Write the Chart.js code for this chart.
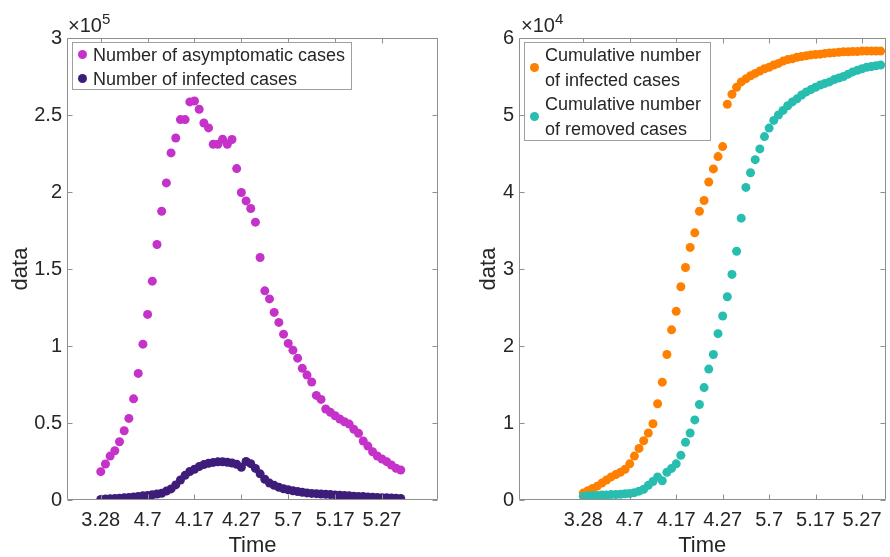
<!DOCTYPE html>
<html>
<head>
<meta charset="utf-8">
<script src="https://cdn.jsdelivr.net/npm/chart.js@4.4.1/dist/chart.umd.min.js"></script>
<style>
    body { margin: 0; background: #fff; }
    #wrap { position: relative; width: 890px; height: 557px; overflow: hidden;
            font-family: "Liberation Sans", Arial, sans-serif; color: #262626; }
    canvas { position: absolute; top: 0; }
    .exp { position: absolute; font-size: 20px; line-height: 20px; white-space: nowrap; }
    .exp span { position: relative; top: -8px; font-size: 15px; }
    .legend { position: absolute; background: #fff; border: 1px solid #a0a0a0; box-sizing: border-box; font-size: 18px; }
    .row { position: absolute; left: 20px; white-space: nowrap; }
    .dot { position: absolute; width: 9px; height: 9px; border-radius: 50%; }
</style>
</head>
<body>
<div id="wrap">
    <canvas id="left" width="445" height="557" style="left:0"></canvas>
    <canvas id="right" width="445" height="557" style="left:445px"></canvas>

    <div class="exp" style="left:68px;top:15px">×10<span>5</span></div>
    <div class="exp" style="left:521px;top:15px">×10<span>4</span></div>

    <div class="legend" style="left:72px;top:42px;width:280px;height:48px">
        <div class="dot" style="left:5px;top:7px;background:#C532C9"></div>
        <div class="row" style="top:0;line-height:24px">Number of asymptomatic cases</div>
        <div class="dot" style="left:5px;top:31px;background:#3E1D7A"></div>
        <div class="row" style="top:24px;line-height:24px">Number of infected cases</div>
    </div>

    <div class="legend" style="left:524px;top:42px;width:187px;height:99px">
        <div class="dot" style="left:5px;top:20px;background:#FF8000"></div>
        <div class="row" style="top:0;line-height:24.5px">Cumulative number<br>of infected cases</div>
        <div class="dot" style="left:5px;top:69px;background:#27BEB0"></div>
        <div class="row" style="top:49px;line-height:24.5px">Cumulative number<br>of removed cases</div>
    </div>
</div>
<script>
// one value per day, 3.28 .. 5.31
const asymptomatic = [18400, 23400, 28500, 32000, 37800, 45000, 53000, 65700, 82200, 101200,
    120500, 142100, 165900, 187500, 205900, 225400, 235100, 247000, 247000, 258500,
    259100, 253700, 244800, 241600, 231000, 231000, 234300, 231000, 234100, 215200,
    199700, 194200, 189300, 180400, 157500, 135800, 130600, 121800, 115300, 107700,
    101700, 97300, 92100, 85500, 81100, 76600, 67900, 65300, 59100, 56900,
    54700, 52600, 50800, 49300, 45900, 43300, 38300, 35000, 31300, 28600,
    26600, 24900, 22700, 20600, 19500];
const infected = [400, 600, 800, 1000, 1200, 1400, 1700, 2000, 2300, 2700,
    3000, 3400, 3900, 4400, 5800, 7200, 9800, 13000, 16000, 18500,
    20000, 21700, 23000, 23900, 24400, 24800, 24800, 24500, 24000, 23200,
    21200, 25000, 23600, 20500, 17000, 13500, 11000, 9500, 8300, 7300,
    6600, 6000, 5500, 5000, 4600, 4300, 4100, 3900, 3700, 3500,
    3300, 3100, 2900, 2700, 2500, 2300, 2200, 2000, 1800, 1700,
    1500, 1400, 1300, 1100, 1000];
const cumInfected = [900, 1200, 1500, 1800, 2200, 2600, 3000, 3300, 3600, 4000,
    4700, 5700, 6700, 7700, 8700, 9900, 12500, 15300, 18900, 22100,
    24500, 27700, 30200, 32800, 34700, 37500, 38900, 41300, 43000, 44600,
    45900, 51400, 52700, 53600, 54300, 54700, 55100, 55400, 55700, 56000,
    56200, 56500, 56700, 57000, 57200, 57300, 57500, 57600, 57700, 57800,
    57850, 57900, 58000, 58050, 58100, 58150, 58200, 58200, 58250, 58250,
    58300, 58300, 58300, 58300, 58300];
const cumRemoved = [500, 550, 600, 600, 650, 650, 700, 700, 750, 800,
    850, 950, 1150, 1400, 1900, 2400, 3000, 2500, 3600, 4100,
    4700, 5800, 7500, 8700, 10400, 12400, 14600, 17000, 18900, 21600,
    23900, 26400, 29300, 32300, 36600, 40600, 42500, 44200, 45600, 47200,
    48300, 49300, 50000, 50600, 51200, 51700, 52100, 52600, 53000, 53300,
    53600, 53900, 54100, 54300, 54600, 54800, 55000, 55300, 55600, 55800,
    56000, 56200, 56300, 56400, 56500];

const tickDays = [0, 10, 20, 30, 40, 50, 60];
const tickLabels = ['3.28', '4.7', '4.17', '4.27', '5.7', '5.17', '5.27'];

const FONT = '"Liberation Sans", Arial, sans-serif';
const TEXT = '#262626';

function toPoints(arr) {
    return arr.map((v, i) => ({ x: i, y: v }));
}

// matlab style box with inward ticks
const axesBox = {
    id: 'axesBox',
    afterDatasetsDraw(chart) {
        const { ctx, chartArea: a, scales } = chart;
        const L = Math.round(a.left) + 0.5, R = Math.round(a.right) - 0.5;
        const T = Math.round(a.top) + 0.5, B = Math.round(a.bottom) - 0.5;
        ctx.save();
        ctx.strokeStyle = '#8f8f8f';
        ctx.lineWidth = 1;
        ctx.beginPath();
        ctx.rect(L, T, R - L, B - T);
        scales.x.ticks.forEach(t => {
            const p = Math.round(scales.x.getPixelForValue(t.value)) + 0.5;
            ctx.moveTo(p, B); ctx.lineTo(p, B - 5);
            ctx.moveTo(p, T); ctx.lineTo(p, T + 5);
        });
        scales.y.ticks.forEach(t => {
            const p = Math.round(scales.y.getPixelForValue(t.value)) + 0.5;
            ctx.moveTo(L, p); ctx.lineTo(L + 5, p);
            ctx.moveTo(R, p); ctx.lineTo(R - 5, p);
        });
        ctx.stroke();
        ctx.restore();
    }
};

function makeChart(id, cfg) {
    return new Chart(document.getElementById(id), {
        type: 'scatter',
        data: { datasets: cfg.datasets },
        options: {
            responsive: false,
            animation: false,
            events: [],
            layout: { padding: { left: 0, top: 38, right: cfg.padRight, bottom: 0 } },
            plugins: { legend: { display: false }, tooltip: { enabled: false } },
            elements: { point: { radius: 4.5, borderWidth: 0 } },
            scales: {
                x: {
                    type: 'linear',
                    min: cfg.xMin,
                    max: cfg.xMax,
                    grid: { display: false, drawTicks: false },
                    border: { display: false },
                    afterFit: s => { s.height = 57; },
                    afterBuildTicks: s => { s.ticks = tickDays.map(v => ({ value: v })); },
                    ticks: {
                        autoSkip: false, maxRotation: 0, padding: 8,
                        color: TEXT, font: { family: FONT, size: 20 },
                        callback: v => tickLabels[tickDays.indexOf(v)]
                    },
                    title: {
                        display: true, text: 'Time', color: TEXT,
                        font: { family: FONT, size: 22, lineHeight: 1 },
                        padding: { top: 0, bottom: 0 }
                    }
                },
                y: {
                    min: 0,
                    max: cfg.yMax,
                    grid: { display: false, drawTicks: false },
                    border: { display: false },
                    afterFit: s => { s.width = cfg.yWidth; },
                    ticks: {
                        stepSize: cfg.yMax / cfg.yDiv, padding: 5,
                        color: TEXT, font: { family: FONT, size: 20 },
                        callback: v => String(v / cfg.yScale)
                    },
                    title: {
                        display: true, text: 'data', color: TEXT,
                        font: { family: FONT, size: 22, lineHeight: 1 },
                        padding: { top: cfg.titlePad, bottom: 0 }
                    }
                }
            }
        },
        plugins: [axesBox]
    });
}

makeChart('left', {
    datasets: [
        { data: toPoints(asymptomatic), backgroundColor: '#C532C9', order: 1 },
        { data: toPoints(infected), backgroundColor: '#3E1D7A', order: 0 }
    ],
    xMin: -7.2, xMax: 71.95, yMax: 300000, yDiv: 6, yScale: 100000,
    yWidth: 67, padRight: 7, titlePad: 10
});

makeChart('right', {
    datasets: [
        { data: toPoints(cumInfected), backgroundColor: '#FF8000', order: 1 },
        { data: toPoints(cumRemoved), backgroundColor: '#27BEB0', order: 0 }
    ],
    xMin: -13.84, xMax: 65.05, yMax: 60000, yDiv: 6, yScale: 10000,
    yWidth: 74, padRight: 1, titlePad: 33
});
</script>
</body>
</html>
